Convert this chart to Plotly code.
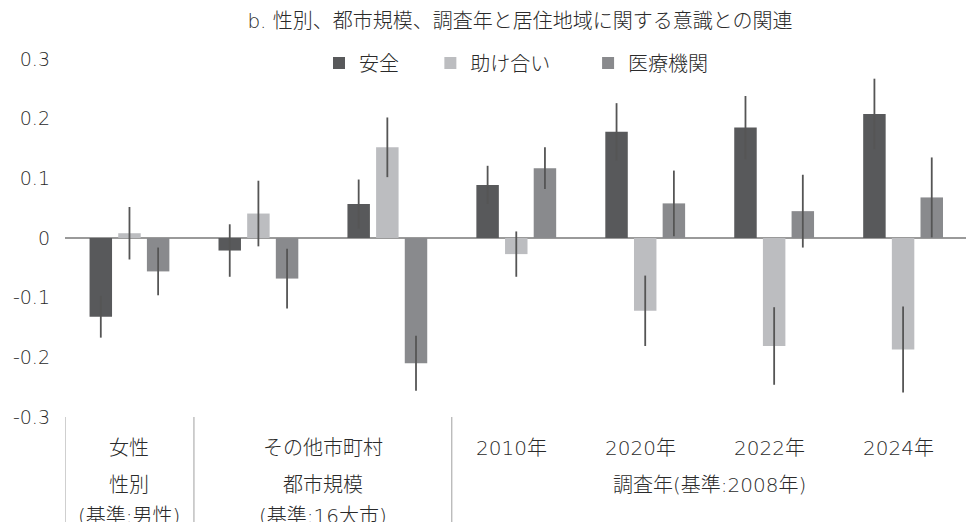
import plotly.graph_objects as go

# ---- data ----
positions = [0, 1, 2, 3, 4, 5, 6]
series_names = ["安全", "助け合い", "医療機関"]
anzen = [-0.132, -0.021, 0.057, 0.089, 0.178, 0.185, 0.208]
tasukeai = [0.008, 0.041, 0.152, -0.027, -0.122, -0.181, -0.187]
iryo = [-0.056, -0.068, -0.210, 0.117, 0.058, 0.045, 0.068]
anzen_err = [0.035, 0.044, 0.041, 0.032, 0.048, 0.053, 0.059]
tasukeai_err = [0.044, 0.055, 0.050, 0.038, 0.059, 0.065, 0.072]
iryo_err = [0.040, 0.050, 0.046, 0.035, 0.055, 0.061, 0.067]

# category labels (row 1), group labels (row 2), reference labels (row 3)
row1_labels = [(0, "女性"), (1.5, "その他市町村"), (3, "2010年"), (4, "2020年"), (5, "2022年"), (6, "2024年")]
row2_labels = [(0, "性別"), (1.5, "都市規模"), (4.5, "調査年(基準:2008年)")]
row3_labels = [(0, "(基準:男性)"), (1.5, "(基準:16大市)")]
separators = [-0.5, 0.5, 2.5]
y_ticks = [-0.3, -0.2, -0.1, 0, 0.1, 0.2, 0.3]
y_tick_text = ["-0.3", "-0.2", "-0.1", "0", "0.1", "0.2", "0.3"]

colors = ["#58595b", "#bcbdc0", "#898a8d"]
FONT = "DejaVu Sans, Noto Sans CJK JP"
TXT = "#2a2a2a"

# the page body adds an 8px margin, so the figure is laid out 8px smaller
OFF = 8
W, H = 974 - OFF, 522 - OFF
PLOT_TOP, PLOT_BOT = 59 - OFF, 417 - OFF

fig = go.Figure()
pad = ["\u3000\u00a0", "\u3000\u00a0\u00a0", ""]
for name, vals, errs, col, p in zip(series_names, [anzen, tasukeai, iryo],
                                  [anzen_err, tasukeai_err, iryo_err], colors, pad):
    fig.add_trace(go.Bar(
        x=positions, y=vals, name=name + p,
        marker=dict(color=col, line=dict(width=0)),
        error_y=dict(type="data", array=errs, visible=True, color="#555555",
                     thickness=1.8, width=0),
    ))

for xv in separators:
    fig.add_shape(type="line", xref="x", yref="paper", x0=xv, x1=xv, y0=0, y1=-0.32,
                  line=dict(color="#a0a0a0", width=1))

def ypaper(ypix):
    return (PLOT_BOT - (ypix - OFF)) / (PLOT_BOT - PLOT_TOP)

def add_row(labels, ypix, xshift_years=False):
    for xv, t in labels:
        xs = -5 if (xshift_years and "年" in t) else 0
        fig.add_annotation(x=xv, xref="x", y=ypaper(ypix), yref="paper",
                           text=t, showarrow=False, xshift=xs,
                           font=dict(family=FONT, size=20, color=TXT, weight=300),
                           xanchor="center", yanchor="middle")

add_row(row1_labels, 448, True)
add_row(row2_labels, 485)
add_row(row3_labels, 516)

fig.update_layout(
    width=W, height=H,
    margin=dict(l=65 - OFF, r=0, t=PLOT_TOP, b=H - PLOT_BOT, autoexpand=False),
    plot_bgcolor="white", paper_bgcolor="white",
    barmode="group", bargap=0.333, bargroupgap=0.216,
    font=dict(family=FONT, size=19, color=TXT),
    title=dict(text="b. 性別、都市規模、調査年と居住地域に関する意識との関連",
               x=(520 - OFF) / W, xanchor="center", y=1 - (21 - OFF) / H, yanchor="middle",
               font=dict(family=FONT, size=20, color=TXT, weight=300)),
    legend=dict(orientation="h", xref="container", yref="container",
                x=(319 - OFF) / W, xanchor="left", y=1 - (63 - OFF) / H, yanchor="middle",
                font=dict(family=FONT, size=20, color=TXT, weight=300),
                bgcolor="rgba(0,0,0,0)", itemwidth=30),
    showlegend=True,
    xaxis=dict(range=[-0.5, 6.55], showticklabels=False, showgrid=False,
               zeroline=False, showline=False, ticks=""),
    yaxis=dict(range=[-0.3, 0.3], tickvals=y_ticks, ticktext=y_tick_text,
               showgrid=False, zeroline=True, zerolinecolor="#9a9a9a", zerolinewidth=1.5,
               showline=False, ticks="", ticklabelstandoff=14,
               tickfont=dict(family=FONT, size=19, color=TXT, weight=300)),
)

fig.write_html("out.html")
